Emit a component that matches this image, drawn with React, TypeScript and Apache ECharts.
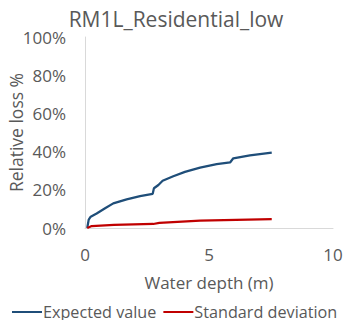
import React, { useEffect, useRef } from "react";
import * as echarts from "echarts";

const expectedX = [0.09, 0.15, 0.23, 0.47, 0.81, 1.14, 1.68, 2.22, 2.73, 2.78, 2.96, 3.13, 3.56, 4.03, 4.64, 5.31, 5.85, 5.98, 6.65, 7.53];
const expectedY = [0, 0.044, 0.059, 0.076, 0.103, 0.129, 0.15, 0.167, 0.179, 0.208, 0.225, 0.247, 0.271, 0.294, 0.316, 0.334, 0.343, 0.365, 0.38, 0.395];
const stdX = [0.09, 0.27, 1.17, 2.75, 3.0, 4.64, 7.53];
const stdY = [0, 0.01, 0.016, 0.021, 0.027, 0.038, 0.047];
const seriesNames = ["Expected value", "Standard deviation"];
const titleText = "RM1L_Residential_low";
const xAxisName = "Water depth (m)";
const yAxisName = "Relative loss %";

const FONT = "Open Sans";
const GRAY = "#595959";

export default function App() {
  const ref = useRef<HTMLDivElement>(null);
  useEffect(() => {
    if (!ref.current) return;
    const chart = echarts.init(ref.current, null, { renderer: "svg" });
    chart.setOption({
      animation: false,
      title: {
        text: titleText,
        left: "center",
        top: 3,
        textStyle: { fontFamily: FONT, fontSize: 21, fontWeight: "normal", color: GRAY },
      },
      legend: {
        bottom: 8,
        left: 12,
        width: 380,
        padding: 0,
        itemWidth: 30,
        itemHeight: 2,
        itemGap: 7,
        icon: "rect",
        textStyle: { fontFamily: FONT, fontSize: 16.2, color: GRAY, padding: [0, 0, 0, -4] },
        data: seriesNames,
      },
      grid: { left: 85, right: 19, top: 37, bottom: 100, outerBoundsMode: "none", containLabel: false },
      xAxis: {
        type: "value",
        min: 0,
        max: 10,
        interval: 5,
        name: xAxisName,
        nameLocation: "middle",
        nameGap: 46,
        nameMoveOverlap: false,
        nameTextStyle: { fontFamily: FONT, fontSize: 17, color: GRAY },
        axisLine: { show: true, lineStyle: { color: "#d9d9d9", width: 1 } },
        axisTick: { show: false },
        splitLine: { show: false },
        axisLabel: { fontFamily: FONT, fontSize: 17, color: GRAY, margin: 18 },
      },
      yAxis: {
        type: "value",
        min: 0,
        max: 1,
        interval: 0.2,
        name: yAxisName,
        nameLocation: "middle",
        nameGap: 60,
        nameMoveOverlap: false,
        nameTextStyle: { fontFamily: FONT, fontSize: 17.5, color: GRAY },
        axisLine: { show: true, lineStyle: { color: "#d9d9d9", width: 1 } },
        axisTick: { show: false },
        splitLine: { show: false },
        axisLabel: {
          fontFamily: FONT,
          fontSize: 17,
          color: GRAY,
          margin: 19,
          formatter: (v: number) => Math.round(v * 100) + "%",
        },
      },
      series: [
        {
          name: seriesNames[0],
          type: "line",
          showSymbol: false,
          symbol: "none",
          data: expectedX.map((x, i) => [x, expectedY[i]]),
          lineStyle: { color: "#1f4e79", width: 2.25 },
          itemStyle: { color: "#1f4e79" },
        },
        {
          name: seriesNames[1],
          type: "line",
          showSymbol: false,
          symbol: "none",
          data: stdX.map((x, i) => [x, stdY[i]]),
          lineStyle: { color: "#c00000", width: 2.25 },
          itemStyle: { color: "#c00000" },
        },
      ],
    });
    return () => chart.dispose();
  }, []);
  return <div ref={ref} style={{ width: 352, height: 328, margin: -8 }} />;
}
